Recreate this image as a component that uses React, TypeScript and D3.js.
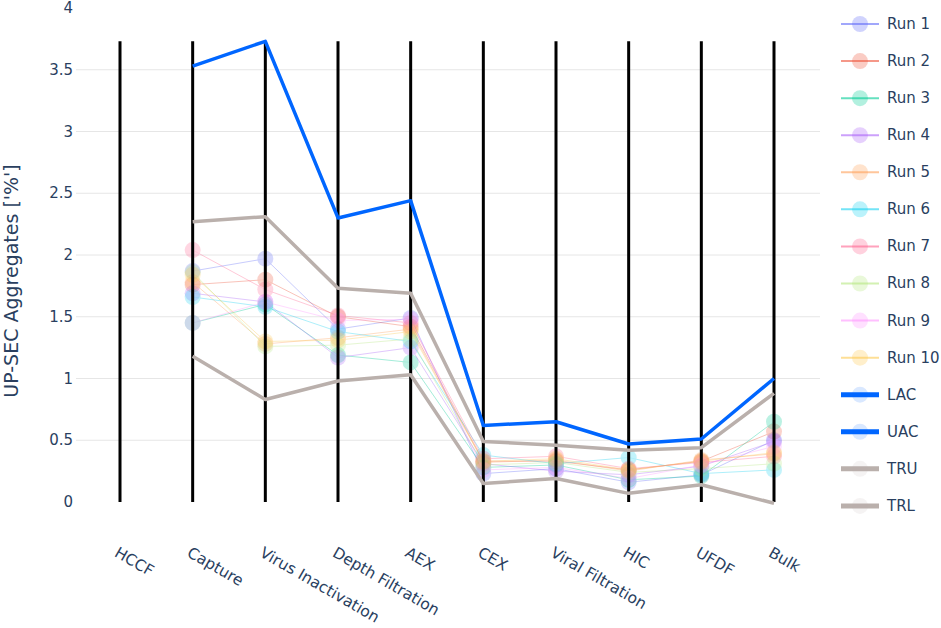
import React from "react";
import * as d3 from "d3";

// process steps (x axis)
const steps = [
  "HCCF",
  "Capture",
  "Virus Inactivation",
  "Depth Filtration",
  "AEX",
  "CEX",
  "Viral Filtration",
  "HIC",
  "UFDF",
  "Bulk",
];

type Val = number | null;

// run values, HCCF has no measurement
const run1: Val[] = [null, 1.87, 1.97, 1.4, 1.49, 0.23, 0.27, 0.16, 0.22, 0.5];
const run2: Val[] = [null, 1.76, 1.8, 1.5, 1.42, 0.33, 0.33, 0.26, 0.33, 0.57];
const run3: Val[] = [null, 1.45, 1.6, 1.19, 1.13, 0.28, 0.3, 0.18, 0.21, 0.65];
const run4: Val[] = [null, 1.69, 1.62, 1.17, 1.25, 0.31, 0.25, 0.22, 0.29, 0.49];
const run5: Val[] = [null, 1.78, 1.28, 1.33, 1.4, 0.32, 0.34, 0.25, 0.34, 0.39];
const run6: Val[] = [null, 1.66, 1.58, 1.38, 1.3, 0.38, 0.31, 0.36, 0.23, 0.26];
const run7: Val[] = [null, 2.04, 1.72, 1.51, 1.45, 0.35, 0.37, 0.27, 0.32, 0.37];
const run8: Val[] = [null, 1.86, 1.26, 1.27, 1.32, 0.3, 0.32, 0.24, 0.27, 0.31];
const run9: Val[] = [null, 1.45, 1.62, 1.47, 1.48, 0.26, 0.28, 0.19, 0.3, 0.45];
const run10: Val[] = [null, 1.84, 1.3, 1.31, 1.38, 0.33, 0.35, 0.26, 0.33, 0.4];

// control limits (LAC lies outside the shown range)
const lac: Val[] = [null, null, null, null, null, null, null, null, null, null];
const uac: Val[] = [null, 3.53, 3.73, 2.3, 2.44, 0.62, 0.65, 0.47, 0.51, 1.0];
const tru: Val[] = [null, 2.27, 2.31, 1.73, 1.69, 0.49, 0.46, 0.42, 0.44, 0.88];
const trl: Val[] = [null, 1.18, 0.83, 0.98, 1.03, 0.15, 0.19, 0.07, 0.14, -0.01];

const yTicks = [0, 0.5, 1, 1.5, 2, 2.5, 3, 3.5, 4];

const runColors = [
  "#636efa",
  "#EF553B",
  "#00cc96",
  "#ab63fa",
  "#FFA15A",
  "#19d3f3",
  "#FF6692",
  "#B6E880",
  "#FF97FF",
  "#FECB52",
];

interface Series {
  name: string;
  values: Val[];
  color: string;
  kind: "run" | "limit";
}

const runs = [run1, run2, run3, run4, run5, run6, run7, run8, run9, run10];

const series: Series[] = [
  ...runs.map((values, i) => ({
    name: `Run ${i + 1}`,
    values,
    color: runColors[i],
    kind: "run" as const,
  })),
  { name: "LAC", values: lac, color: "#0066ff", kind: "limit" },
  { name: "UAC", values: uac, color: "#0066ff", kind: "limit" },
  { name: "TRU", values: tru, color: "#bab0ac", kind: "limit" },
  { name: "TRL", values: trl, color: "#bab0ac", kind: "limit" },
];

const App: React.FC = () => {
  const width = 941;
  const height = 628;
  const font = "'DejaVu Sans', Verdana, sans-serif";
  const textColor = "#2a3f5f";

  const x = d3.scalePoint().domain(steps).range([120, 774]);
  const y = d3.scaleLinear().domain([0, 4]).range([502, 8]);

  const allValues = series.flatMap((s) => s.values.filter((v): v is number => v !== null));
  const axisTop = d3.max(allValues)!;

  const line = d3
    .line<Val>()
    .defined((d) => d !== null)
    .x((_, i) => x(steps[i])!)
    .y((d) => y(d as number));

  const legendY = (i: number) => 24 + i * 37.07;

  return (
    <svg
      width={width}
      height={height}
      style={{ position: "absolute", left: 0, top: 0, background: "#fff" }}
      fontFamily={font}
    >
      {/* grid */}
      {yTicks
        .filter((t) => t > 0 && t < 4)
        .map((t) => (
          <line key={t} x1={76} x2={820} y1={y(t)} y2={y(t)} stroke="#e6e6e6" strokeWidth={1} />
        ))}

      {/* y ticks */}
      {yTicks.map((t) => (
        <text
          key={t}
          x={73}
          y={y(t)}
          textAnchor="end"
          dominantBaseline="central"
          fontSize={15}
          fill={textColor}
        >
          {t}
        </text>
      ))}

      {/* y title */}
      <text
        transform="translate(11,281) rotate(-90)"
        textAnchor="middle"
        dominantBaseline="central"
        fontSize={19}
        fill={textColor}
      >
        UP-SEC Aggregates ['%']
      </text>

      {/* runs */}
      {series
        .filter((s) => s.kind === "run")
        .map((s) => (
          <g key={s.name} opacity={0.35}>
            <path d={line(s.values) ?? ""} fill="none" stroke={s.color} strokeWidth={1} />
            {s.values.map((v, i) =>
              v === null ? null : (
                <circle key={i} cx={x(steps[i])} cy={y(v)} r={8} fill={s.color} opacity={0.75} />
              )
            )}
          </g>
        ))}

      {/* step axes */}
      {steps.map((s) => (
        <line
          key={s}
          x1={x(s)}
          x2={x(s)}
          y1={y(0)}
          y2={y(axisTop)}
          stroke="#000"
          strokeWidth={3}
        />
      ))}

      {/* limits */}
      {series
        .filter((s) => s.kind === "limit")
        .slice()
        .reverse()
        .map((s) => (
          <path
            key={s.name}
            d={line(s.values) ?? ""}
            fill="none"
            stroke={s.color}
            strokeWidth={3.5}
            strokeLinejoin="round"
          />
        ))}

      {/* x labels */}
      {steps.map((s) => (
        <text
          key={s}
          transform={`translate(${x(s)! - 1},546) rotate(30)`}
          textAnchor="start"
          dominantBaseline="hanging"
          fontSize={15.5}
          fill={textColor}
        >
          {s}
        </text>
      ))}

      {/* legend */}
      {series.map((s, i) => (
        <g key={s.name} transform={`translate(0,${legendY(i)})`}>
          <line
            x1={841}
            x2={879}
            y1={0}
            y2={0}
            stroke={s.color}
            strokeWidth={s.kind === "run" ? 2 : 5}
            opacity={s.kind === "run" ? 0.6 : 1}
          />
          <circle
            cx={860}
            cy={0}
            r={8}
            fill={s.color}
            opacity={s.kind === "run" ? 0.3 : 0.15}
          />
          <text x={887} y={0} dominantBaseline="central" fontSize={15} fill={textColor}>
            {s.name}
          </text>
        </g>
      ))}
    </svg>
  );
};

export default App;
